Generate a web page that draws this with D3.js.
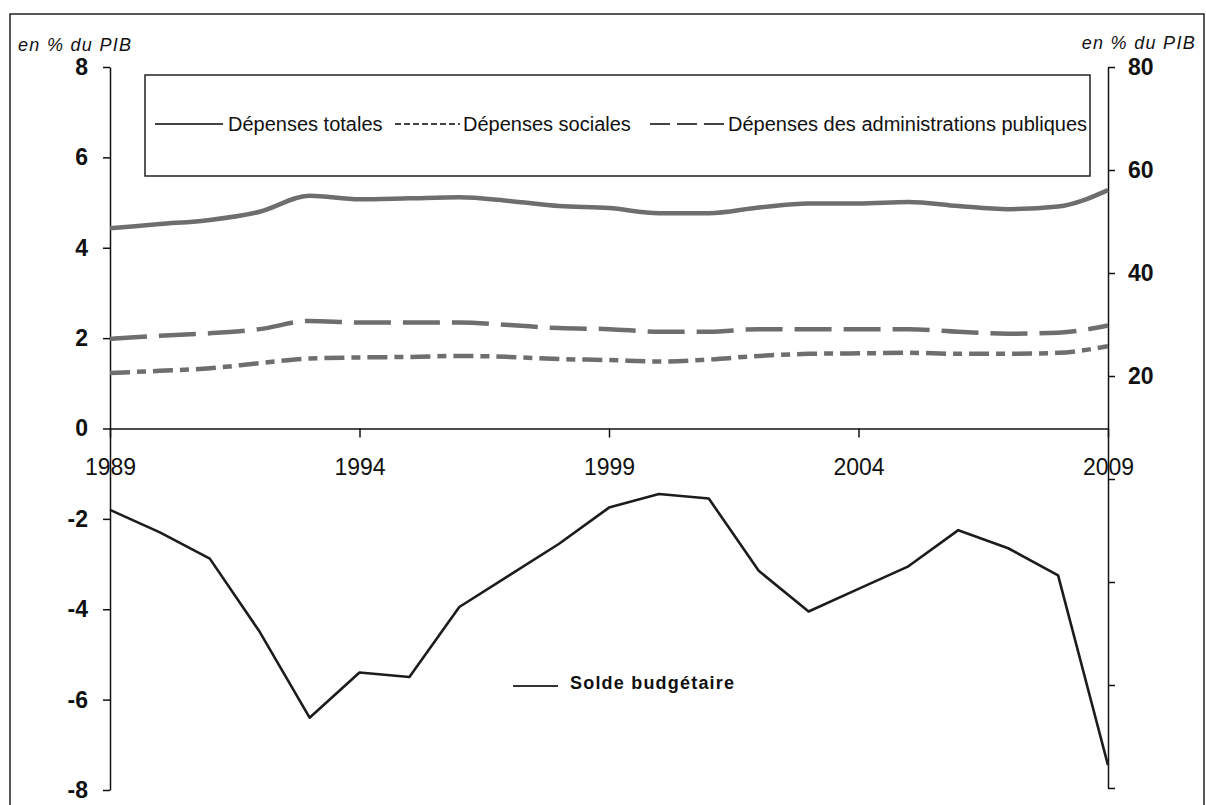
<!DOCTYPE html>
<html><head><meta charset="utf-8">
<script src="https://cdn.jsdelivr.net/npm/d3@7"></script>
<style>
body{margin:0;background:#fff}
svg{display:block}
text{font-family:"Liberation Sans",Arial,sans-serif}
</style>
</head><body>
<svg id="c" width="1206" height="805"></svg>
<script>
const years = [1989,1990,1991,1992,1993,1994,1995,1996,1997,1998,1999,2000,2001,2002,2003,2004,2005,2006,2007,2008,2009];
const depensesTotales = [48.7,49.5,50.3,51.9,55.0,54.3,54.5,54.7,54.0,53.0,52.6,51.6,51.6,52.7,53.5,53.5,53.8,53.0,52.4,52.9,56.1];
const depensesAPU = [27.2,27.8,28.3,29.1,30.7,30.4,30.4,30.4,29.9,29.3,29.1,28.6,28.6,29.1,29.1,29.1,29.1,28.6,28.2,28.4,29.8];
const depensesSociales = [20.6,21.0,21.5,22.5,23.4,23.6,23.7,23.9,23.7,23.3,23.1,22.8,23.2,23.9,24.3,24.4,24.5,24.3,24.3,24.5,25.8];
const soldeBudgetaire = [-1.8,-2.3,-2.88,-4.5,-6.4,-5.4,-5.5,-3.95,-3.25,-2.55,-1.75,-1.45,-1.55,-3.15,-4.05,-3.55,-3.05,-2.25,-2.65,-3.25,-7.45];
const xTickYears = [1989,1994,1999,2004,2009];
const leftTicks = [8,6,4,2,0,-2,-4,-6,-8];
const rightTicks = [80,60,40,20,0,-20,-40,-60];
const rightLabelled = [80,60,40,20];
const axisTitle = "en % du PIB";
const legendUpper = ["Dépenses totales","Dépenses sociales","Dépenses des administrations publiques"];
const legendLower = "Solde budgétaire";

const svg = d3.select("#c");
const x = d3.scaleLinear().domain([1989,2009]).range([110,1108]);
const yL = d3.scaleLinear().domain([-8,8]).range([790,67]);
const yR = d3.scaleLinear().domain([-60,80]).range([788,67]);

// outer frame
svg.append("rect").attr("x",10).attr("y",14).attr("width",1194).attr("height",820)
  .attr("fill","none").attr("stroke","#222").attr("stroke-width",1.5);

// axis titles
svg.append("text").attr("x",18).attr("y",51).attr("font-size",18).attr("font-style","italic")
  .attr("letter-spacing","1.3px").attr("fill","#111").text(axisTitle);
svg.append("text").attr("x",1196).attr("y",49).attr("font-size",18).attr("font-style","italic")
  .attr("letter-spacing","1.3px").attr("text-anchor","end").attr("fill","#111").text(axisTitle);

// left axis
const gL = svg.append("g").attr("transform","translate(110,0)")
  .call(d3.axisLeft(yL).tickValues(leftTicks).tickSize(7).tickSizeOuter(0).tickPadding(15).tickFormat(d=>String(d)));
gL.selectAll("text").attr("font-size",23).attr("font-weight","bold").attr("fill","#111");
gL.selectAll("line,path").attr("stroke","#111").attr("stroke-width",1.5);

// right axis
const gR = svg.append("g").attr("transform","translate(1108,0)")
  .call(d3.axisRight(yR).tickValues(rightTicks).tickSize(7).tickSizeOuter(0).tickPadding(13)
  .tickFormat(d=> rightLabelled.includes(d) ? String(d) : ""));
gR.selectAll("text").attr("font-size",23).attr("font-weight","bold").attr("fill","#111");
gR.selectAll("line,path").attr("stroke","#111").attr("stroke-width",1.5);

// x axis at zero
const gX = svg.append("g").attr("transform",`translate(0,${yL(0)})`)
  .call(d3.axisBottom(x).tickValues(xTickYears).tickFormat(d3.format("d")).tickSize(9).tickSizeOuter(0).tickPadding(21));
gX.selectAll("text").attr("font-size",23).attr("fill","#111");
gX.selectAll("line,path").attr("stroke","#111").attr("stroke-width",1.5);

// legend box (upper)
svg.append("rect").attr("x",145).attr("y",75).attr("width",945).attr("height",101)
  .attr("fill","#fff").attr("stroke","#222").attr("stroke-width",1.5);

const grey = "#6e6e6e";
const lineR = d3.line().x((d,i)=>x(years[i])).y(d=>yR(d)).curve(d3.curveMonotoneX);
svg.append("path").datum(depensesTotales).attr("d",lineR).attr("fill","none")
  .attr("stroke",grey).attr("stroke-width",4.5);
svg.append("path").datum(depensesAPU).attr("d",lineR).attr("fill","none")
  .attr("stroke",grey).attr("stroke-width",4.5).attr("stroke-dasharray","37,12");
svg.append("path").datum(depensesSociales).attr("d",lineR).attr("fill","none")
  .attr("stroke",grey).attr("stroke-width",4.5).attr("stroke-dasharray","20,7,9,7");

// solde
const lineL = d3.line().x((d,i)=>x(years[i])).y(d=>yL(d));
svg.append("path").datum(soldeBudgetaire).attr("d",lineL).attr("fill","none")
  .attr("stroke","#1c1c1c").attr("stroke-width",2.6).attr("stroke-linejoin","round");

// upper legend
const ly = 124;
const items = [
  {x1:155,x2:223,tx:228,dash:null},
  {x1:395,x2:460,tx:463,dash:"6,3"},
  {x1:650,x2:725,tx:728,dash:"20,7"}
];
items.forEach((it,i)=>{
  svg.append("line").attr("x1",it.x1).attr("x2",it.x2).attr("y1",ly).attr("y2",ly)
    .attr("stroke","#444").attr("stroke-width",2).attr("stroke-dasharray",it.dash);
  svg.append("text").attr("x",it.tx).attr("y",ly+7).attr("font-size",20).attr("fill","#111")
    .text(legendUpper[i]);
});

// lower legend
svg.append("line").attr("x1",513).attr("x2",558).attr("y1",686).attr("y2",686)
  .attr("stroke","#333").attr("stroke-width",2);
svg.append("text").attr("x",570).attr("y",689).attr("font-size",18).attr("font-weight","bold")
  .attr("letter-spacing","1.2px").attr("fill","#111").text(legendLower);
</script>
</body></html>
